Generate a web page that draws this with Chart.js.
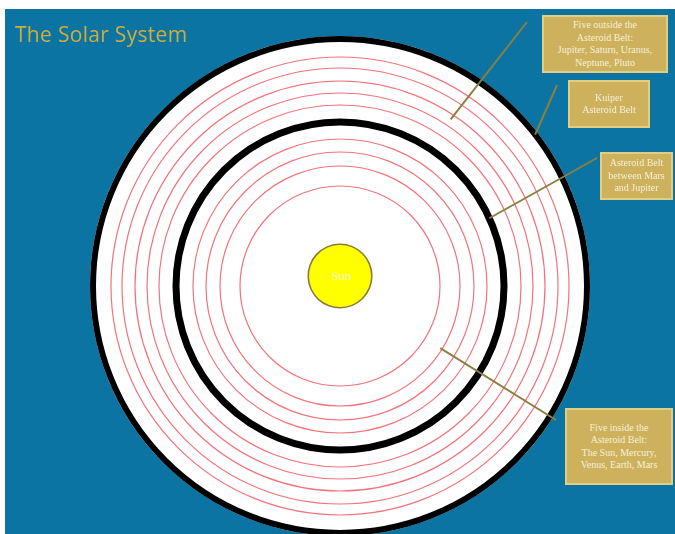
<!DOCTYPE html>
<html>
<head>
<meta charset="utf-8">
<title>The Solar System</title>
<script src="https://cdn.jsdelivr.net/npm/chart.js@4.4.0/dist/chart.umd.min.js"></script>
<style>
html, body { margin:0; padding:0; width:675px; height:534px; overflow:hidden; background:#fff; }
#sky { position:absolute; left:5px; top:9px; width:670px; height:525px; background:#0c74a3; }
#solar { position:absolute; left:0; top:0; }
.title { position:absolute; left:15px; top:20px; font:21px "Open Sans"; letter-spacing:0.3px; color:#d0ad3a; white-space:nowrap; }
.note { position:absolute; box-sizing:border-box; background:#cdb15c; border:2px solid #e2cd84;
        color:#f7f0d8; font:10px "Liberation Serif"; line-height:12.5px; text-align:center;
        display:flex; align-items:center; justify-content:center; }
.sun { position:absolute; left:316px; top:268px; width:50px; text-align:center;
       font:13px "Liberation Serif"; color:#fff7c9; }
</style>
</head>
<body>
<div id="sky"></div>
<canvas id="solar" width="675" height="560"></canvas>
<div class="title">The Solar System</div>
<div class="note" style="left:542px;top:15px;width:126px;height:58px;">Five outside the<br>Asteroid Belt:<br>Jupiter, Saturn, Uranus,<br>Neptune, Pluto</div>
<div class="note" style="left:568px;top:80px;width:82px;height:48px;">Kuiper<br>Asteroid Belt</div>
<div class="note" style="left:600px;top:152px;width:73px;height:48px;">Asteroid Belt<br>between Mars<br>and Jupiter</div>
<div class="note" style="left:565px;top:408px;width:108px;height:77px;">Five inside the<br>Asteroid Belt:<br>The Sun, Mercury,<br>Venus, Earth, Mars</div>
<div class="sun">Sun</div>
<script>
// orbit rings (red) and the two belts (black), as radii on the r scale
var orbitRadii = [229, 218, 205, 193, 181, 147, 134, 120, 100];
var beltRadii = [247, 164];
var sunLabel = ['Sun'];
var sunSize = [21];
var sceneRadius = 250;

var ringTicks = [0].concat(beltRadii, orbitRadii).sort(function(a, b) { return a - b; });

function isBelt(v) {
	return beltRadii.indexOf(v) !== -1;
}

// leader lines from the notes to the rings
var callouts = [
	{from: [527, 22], ring: 200, angle: -56.4},
	{from: [557, 85], ring: beltRadii[0], angle: -37.8},
	{from: [597, 158], ring: beltRadii[1], angle: -24.4},
	{from: [556, 420], ring: 118, angle: 31.8}
];

var leaders = {
	id: 'leaders',
	afterDatasetsDraw: function(chart) {
		var r = chart.scales.r;
		var ctx = chart.ctx;
		ctx.save();
		ctx.strokeStyle = '#8d7f3e';
		ctx.lineWidth = 2;
		callouts.forEach(function(c) {
			var d = r.getDistanceFromCenterForValue(c.ring);
			var a = c.angle * Math.PI / 180;
			ctx.beginPath();
			ctx.moveTo(c.from[0], c.from[1]);
			ctx.lineTo(r.xCenter + d * Math.cos(a), r.yCenter + d * Math.sin(a));
			ctx.stroke();
		});
		ctx.restore();
	}
};

// the sun sits a little above the ring centre: a full (370 deg) arc nudged up by its offset
var myChart = new Chart(document.getElementById('solar'), {
	type: 'polarArea',
	data: {
		labels: sunLabel,
		datasets: [{
			label: 'Sun',
			data: sunSize,
			backgroundColor: '#ffff00',
			borderWidth: 0,
			angle: 370,
			offset: 40
		}, {
			label: 'Sun edge',
			data: sunSize.map(function(v) { return v + 1.6; }),
			backgroundColor: '#8c7c3c',
			borderWidth: 0,
			angle: 370,
			offset: 40
		}]
	},
	options: {
		responsive: false,
		animation: false,
		events: [],
		layout: {
			padding: {left: 90, top: 36, right: 85, bottom: 24}
		},
		plugins: {
			legend: {display: false},
			tooltip: {enabled: false}
		},
		scales: {
			r: {
				min: 0,
				max: sceneRadius,
				startAngle: 175,
				backgroundColor: '#ffffff',
				ticks: {display: false},
				angleLines: {display: false},
				pointLabels: {display: false},
				afterBuildTicks: function(scale) {
					scale.ticks = ringTicks.map(function(v) { return {value: v}; });
				},
				grid: {
					color: function(ctx) {
						return isBelt(ctx.tick.value) ? '#000000' : '#f2737c';
					},
					lineWidth: function(ctx) {
						if (!isBelt(ctx.tick.value)) return 1.2;
						return ctx.tick.value === beltRadii[0] ? 6 : 7;
					}
				}
			}
		}
	},
	plugins: [leaders]
});
</script>
</body>
</html>
